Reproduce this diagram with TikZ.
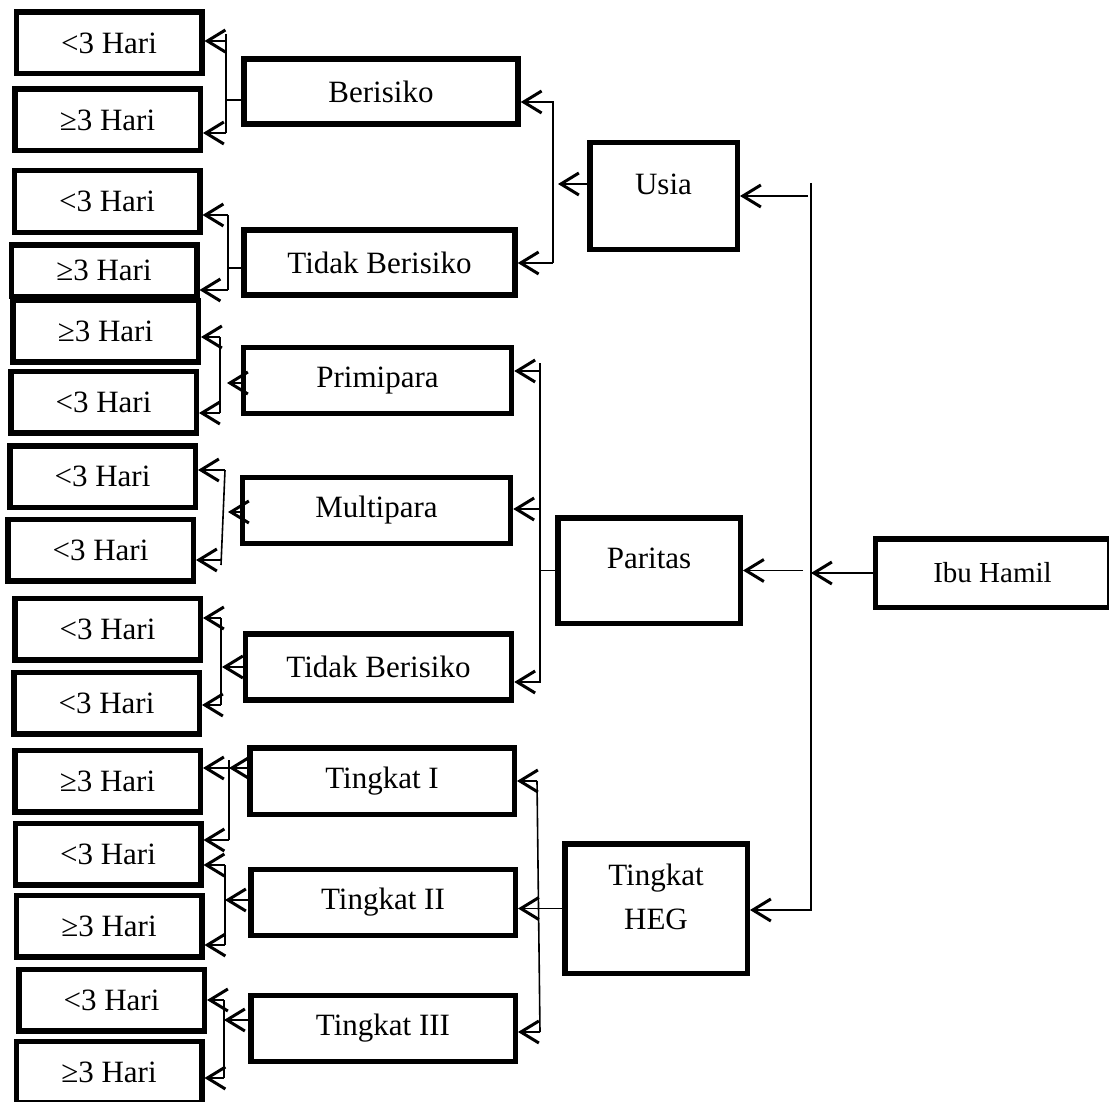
\documentclass[tikz,border=0pt]{standalone}
\usepackage{fontspec}
\setmainfont{Liberation Serif}
\usepackage{tikz}
\usetikzlibrary{arrows.meta}
\tikzstyle{leaf} = [rectangle, minimum width=92.75pt, minimum height=30.75pt, inner sep=0pt, text centered, draw=black, line width=2.75pt]
\tikzstyle{group} = [rectangle, minimum width=134pt, minimum height=32.5pt, inner sep=0pt, text centered, draw=black, line width=2.75pt]
\tikzstyle{factor} = [rectangle, minimum width=91.25pt, minimum height=53pt, inner sep=0pt, text depth=12pt, align=center, draw=black, line width=2.75pt]
\tikzstyle{link} = [line width=0.8pt]
\tikzstyle{arrow} = [line width=0.8pt, -{Straight Barb[length=9pt, width=11pt, line width=1.5pt]}]

\begin{document}
\begin{tikzpicture}[x=0.5pt, y=-0.5pt, font=\fontsize{15.5}{22}\selectfont]
        \useasboundingbox (0,0) rectangle (1109,1102);
        % lama rawat
        \node (b1) [leaf] at (109,43) {<3 Hari};
        \node (b2) [leaf] at (107.5,120) {≥3 Hari};
        \node (b3) [leaf] at (107,201.5) {<3 Hari};
        \node (b4) [leaf, minimum height=25.75pt] at (104,270.5) {≥3 Hari};
        \node (b5) [leaf] at (105.5,331) {≥3 Hari};
        \node (b6) [leaf] at (103.5,402) {<3 Hari};
        \node (b7) [leaf] at (102.5,476.5) {<3 Hari};
        \node (b8) [leaf] at (100.5,550) {<3 Hari};
        \node (b9) [leaf] at (107.5,629) {<3 Hari};
        \node (b10) [leaf] at (106.5,703) {<3 Hari};
        \node (b11) [leaf] at (107.5,781) {≥3 Hari};
        \node (b12) [leaf] at (108,854) {<3 Hari};
        \node (b13) [leaf] at (109,926) {≥3 Hari};
        \node (b14) [leaf] at (111.5,1000) {<3 Hari};
        \node (b15) [leaf] at (109,1072) {≥3 Hari};
        % kategori
        \node (berisiko) [group, minimum width=137pt] at (381,91.5) {Berisiko};
        \node (tbA) [group, minimum width=135.5pt] at (379.5,262.5) {Tidak Berisiko};
        \node (primi) [group, minimum height=33pt] at (377.5,380.5) {Primipara};
        \node (multi) [group, minimum height=33pt] at (376.5,510.5) {Multipara};
        \node (tbB) [group, minimum width=133pt, minimum height=33pt] at (378.5,667) {Tidak Berisiko};
        \node (t1) [group, minimum width=132.25pt, minimum height=33.25pt] at (382,781) {Tingkat I};
        \node (t2) [group, minimum width=132.25pt, minimum height=33pt] at (383,902.5) {Tingkat II};
        \node (t3) [group, minimum width=132.25pt, minimum height=33pt] at (383,1028.5) {Tingkat III};
        % faktor
        \node (usia) [factor, minimum width=73.75pt, minimum height=53.25pt] at (663.5,196) {Usia};
        \node (paritas) [factor, minimum height=52.75pt] at (649,570.5) {Paritas};
        \node (heg) [factor, minimum height=64.75pt] at (656,908.5) {Tingkat\\HEG};
        \node (ibu) [leaf, minimum width=117pt, minimum height=34.25pt, font=\fontsize{14.5}{17}\selectfont] at (992.5,573) {Ibu Hamil};

        % batang utama
        \coordinate (trunktop) at (811,183);
        \coordinate (trunkbot) at (811,910);
        \draw [arrow] (trunktop) -- (trunkbot) -- (trunkbot -| heg.east);
        \draw [arrow] (usia.east -| trunktop) ++(-3,0) -- (usia.east);
        \draw [arrow] (paritas.east -| trunktop) ++(-8,0) -- (paritas.east);
        \draw [arrow] (ibu.west) -- (ibu.west -| trunktop);

        % usia
        \coordinate (ua) at (553,102);
        \coordinate (ub) at (553,263);
        \coordinate (uc) at (558,184);
        \draw [arrow] (ub) -- (ua) -- (ua -| berisiko.east);
        \draw [arrow] (ub) -- (ub -| tbA.east);
        \draw [arrow] (usia.west |- uc) -- (uc);

        % paritas
        \coordinate (pa) at (540,363);
        \coordinate (pb) at (540,683);
        \coordinate (p1) at (540,371);
        \coordinate (p2) at (540,509);
        \coordinate (p3) at (540,682);
        \draw [link] (pa) -- (pb);
        \draw [arrow] (p1) -- (p1 -| primi.east);
        \draw [arrow] (p2) -- (p2 -| multi.east);
        \draw [arrow] (p3) -- (p3 -| tbB.east);
        \draw [link] (paritas.west) -- (paritas.west -| pa);

        % tingkat HEG
        \coordinate (ha) at (537,781);
        \coordinate (hb) at (540,1032);
        \draw [link] (ha) -- (hb);
        \draw [arrow] (ha) -- (ha -| t1.east);
        \draw [arrow] (hb) -- (hb -| t3.east);
        \draw [arrow] (heg.west) -- (heg.west -| t2.east);

        % berisiko
        \coordinate (g1t) at (226,34);
        \coordinate (g1a) at (226,41);
        \coordinate (g1b) at (226,133);
        \coordinate (g1m) at (226,100);
        \draw [link] (g1t) -- (g1b);
        \draw [arrow] (g1a) -- (g1a -| b1.east);
        \draw [arrow] (g1b) -- (g1b -| b2.east);
        \draw [link] (berisiko.west |- g1m) -- (g1m);

        % tidak berisiko (usia)
        \coordinate (g2a) at (228,215);
        \coordinate (g2b) at (228,290);
        \coordinate (g2m) at (228,268);
        \draw [link] (g2a) -- (g2b);
        \draw [arrow] (g2a) -- (g2a -| b3.east);
        \draw [arrow] (g2b) -- (g2b -| b4.east);
        \draw [link] (tbA.west |- g2m) -- (g2m);

        % primipara
        \coordinate (g3a) at (220,337);
        \coordinate (g3b) at (220,413);
        \coordinate (g3m) at (227,383);
        \draw [link] (g3a) -- (g3b);
        \draw [arrow] (g3a) -- (g3a -| b5.east);
        \draw [arrow] (g3b) -- (g3b -| b6.east);
        \draw [arrow] (primi.west |- g3m) -- (g3m);

        % multipara
        \coordinate (g4a) at (225,470);
        \coordinate (g4b) at (221,565);
        \coordinate (g4c) at (221,560);
        \coordinate (g4m) at (228,512);
        \draw [link] (g4a) -- (g4b);
        \draw [arrow] (g4a) -- (g4a -| b7.east);
        \draw [arrow] (g4c) -- (g4c -| b8.east);
        \draw [arrow] (multi.west |- g4m) -- (g4m);

        % tidak berisiko (paritas)
        \coordinate (g5a) at (221,618);
        \coordinate (g5b) at (221,705);
        \coordinate (g5m) at (222,667);
        \draw [link] (g5a) -- (g5b);
        \draw [arrow] (g5a) -- (g5a -| b9.east);
        \draw [arrow] (g5b) -- (g5b -| b10.east);
        \draw [arrow] (tbB.west |- g5m) -- (g5m);

        % tingkat I
        \coordinate (g6t) at (229,760);
        \coordinate (g6a) at (229,768);
        \coordinate (g6b) at (229,840);
        \draw [link] (g6t) -- (g6b);
        \draw [arrow] (g6a) -- (g6a -| b11.east);
        \draw [arrow] (g6b) -- (g6b -| b12.east);
        \draw [arrow] (t1.west |- g6a) -- (g6a);

        % tingkat II
        \coordinate (g7a) at (225,865);
        \coordinate (g7b) at (225,945);
        \coordinate (g7m) at (225,900);
        \draw [link] (g7a) -- (g7b);
        \draw [arrow] (g7a) -- (g7a -| b12.east);
        \draw [arrow] (g7b) -- (g7b -| b13.east);
        \draw [arrow] (t2.west |- g7m) -- (g7m);

        % tingkat III
        \coordinate (g8a) at (224,1000);
        \coordinate (g8b) at (224,1078);
        \coordinate (g8m) at (224,1020);
        \draw [link] (g8a) -- (g8b);
        \draw [arrow] (g8a) -- (g8a -| b14.east);
        \draw [arrow] (g8b) -- (g8b -| b15.east);
        \draw [arrow] (t3.west |- g8m) -- (g8m);
    \end{tikzpicture}
\end{document}
